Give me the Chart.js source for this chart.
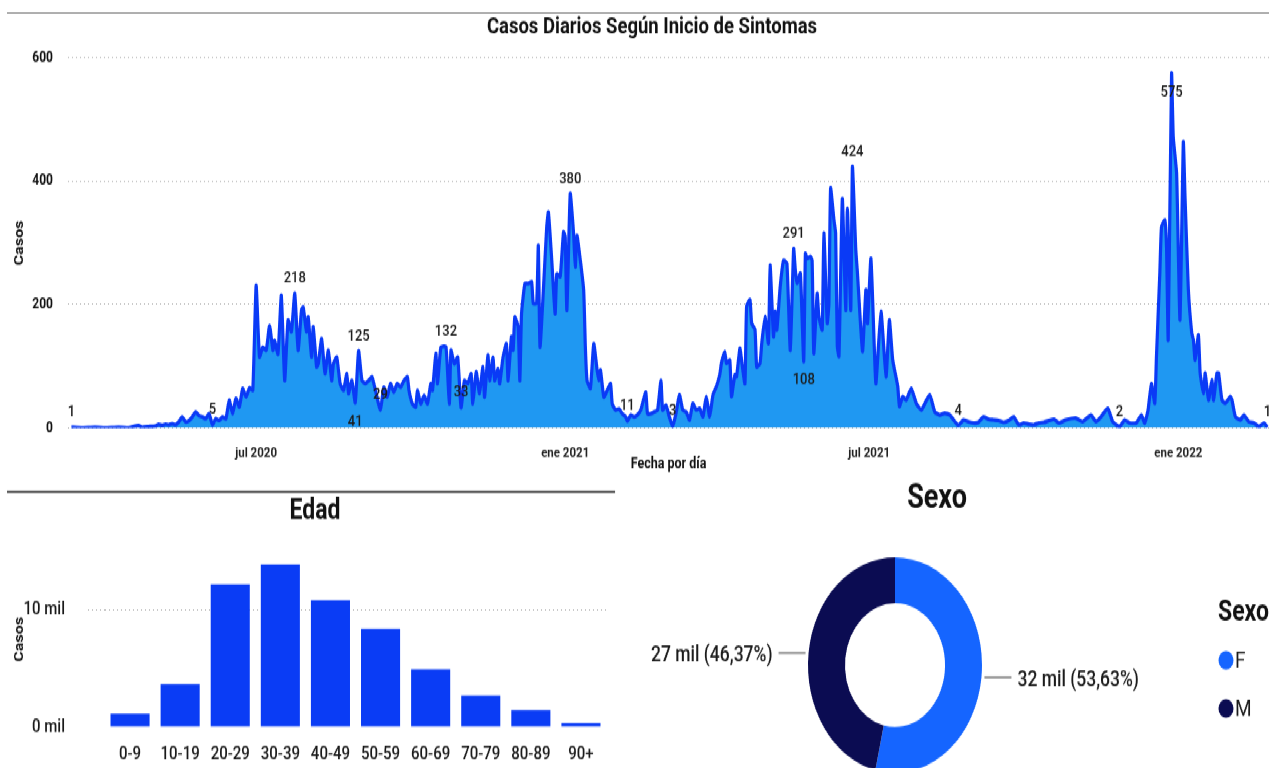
<!DOCTYPE html>
<html lang="es">
<head>
<meta charset="utf-8">
<title>Casos Diarios</title>
<script src="https://cdn.jsdelivr.net/npm/chart.js@4.4.1/dist/chart.umd.min.js"></script>
<style>
  html, body { margin: 0; padding: 0; background: #fff; overflow: hidden; }
  body { width: 1269px; height: 768px; position: relative; }
  /* the dashboard is laid out at 620px tall and stretched to the window height */
  #tablero { position: absolute; left: 0; top: 0; width: 1269px; height: 620px;
             transform: scaleY(1.2387); transform-origin: 0 0; }
  .panel { position: absolute; }
  .linea { position: absolute; background: #7f7f7f; }
</style>
</head>
<body>
<div id="tablero">
  <div class="linea" style="left:7px; top:9.8px; width:1262px; height:1.4px;"></div>
  <canvas id="diario" class="panel" style="left:0; top:0;" width="1269" height="390"></canvas>
  <div class="linea" style="left:7px; top:396px; width:608px; height:2.4px; background:#555;"></div>
  <canvas id="edad" class="panel" style="left:0; top:400px;" width="615" height="220"></canvas>
  <canvas id="sexo" class="panel" style="left:620px; top:385px;" width="649" height="260"></canvas>
</div>
<script>
// ---- daily cases (day offset from 13 mar 2020, value) ----
const INICIO = Date.UTC(2020, 2, 13);
const DIA_MS = 86400000;

const dias = [
  0, 6, 14, 20, 28, 34, 40, 42, 46, 50, 52, 54, 56, 58, 60, 62, 64, 66, 68, 70,
  72, 74, 76, 78, 80, 82, 84, 86, 88, 90, 92, 94, 96, 98, 100, 102, 104, 106, 108, 110,
  112, 114, 116, 118, 120, 121, 123, 125, 127, 129, 131, 133, 135, 137, 138, 140, 141, 143, 144, 146,
  147, 149, 151, 153, 155, 156, 158, 160, 162, 164, 165, 167, 169, 171, 173, 175, 177, 179, 181, 184,
  186, 188, 190, 192, 194, 196, 198, 200, 201, 203, 205, 206, 208, 210, 212, 214, 215, 217, 218, 220,
  223, 225, 226, 228, 230, 232, 234, 236, 238, 239, 241, 243, 245, 246, 248, 249, 251, 252, 254, 255,
  257, 259, 260, 262, 263, 264, 266, 267, 268, 270, 272, 274, 275, 277, 278, 279, 281, 283, 284, 286,
  288, 289, 291, 293, 294, 295, 297, 299, 300, 301, 303, 305, 306, 307, 309, 311, 313, 314, 315, 317,
  319, 321, 322, 324, 326, 328, 330, 331, 333, 335, 337, 339, 340, 342, 343, 345, 347, 349, 351, 352,
  354, 356, 358, 360, 362, 364, 366, 368, 370, 372, 374, 376, 378, 380, 382, 384, 386, 387, 389, 390,
  392, 393, 395, 396, 398, 399, 401, 402, 404, 405, 407, 408, 410, 411, 413, 415, 416, 418, 419, 420,
  422, 424, 426, 428, 430, 431, 432, 434, 436, 437, 438, 440, 441, 442, 444, 445, 447, 448, 450, 451,
  452, 454, 455, 456, 457, 459, 461, 462, 464, 465, 467, 468, 471, 473, 474, 476, 478, 479, 482, 485,
  487, 489, 492, 493, 495, 497, 500, 503, 506, 511, 514, 517, 520, 523, 528, 531, 534, 537, 540, 543,
  546, 549, 552, 555, 558, 561, 564, 567, 570, 573, 576, 579, 582, 585, 588, 592, 598, 602, 607, 610,
  613, 617, 620, 624, 627, 630, 634, 637, 639, 641, 643, 645, 646, 648, 649, 651, 652, 653, 655, 656,
  658, 660, 662, 663, 665, 667, 668, 669, 671, 672, 674, 675, 677, 679, 680, 682, 683, 685, 687, 690,
  691, 693, 696, 698, 701, 704, 707, 710, 712
];
const casos = [
  1, 0, 1, 0, 1, 0, 4, 1, 2, 3, 6, 4, 6, 5, 7, 5, 10, 18, 10, 12,
  18, 26, 20, 18, 15, 23, 5, 15, 12, 18, 15, 45, 23, 48, 34, 64, 50, 65, 61, 231,
  115, 131, 126, 166, 126, 142, 120, 215, 77, 175, 156, 218, 126, 191, 196, 156, 180, 115, 164, 99,
  104, 145, 88, 126, 77, 104, 115, 72, 61, 88, 56, 77, 41, 125, 77, 72, 77, 83, 61, 29,
  66, 50, 72, 58, 72, 66, 77, 83, 61, 39, 34, 61, 39, 53, 39, 72, 61, 121, 72, 131,
  132, 39, 126, 104, 115, 33, 77, 72, 88, 39, 91, 56, 99, 50, 118, 77, 115, 77, 96, 72,
  115, 137, 77, 148, 126, 180, 164, 77, 185, 234, 234, 237, 202, 202, 296, 131, 223, 326, 350, 272,
  185, 250, 245, 318, 310, 191, 380, 315, 261, 312, 272, 223, 131, 77, 64, 137, 94, 77, 94, 50,
  61, 72, 39, 29, 31, 23, 18, 11, 21, 18, 21, 29, 39, 58, 23, 23, 26, 29, 77, 29,
  37, 18, 3, 24, 54, 29, 26, 13, 40, 29, 32, 18, 51, 18, 54, 67, 86, 105, 124, 105,
  110, 51, 86, 83, 129, 110, 72, 197, 208, 170, 159, 99, 105, 137, 181, 137, 264, 148, 189, 159,
  229, 272, 267, 126, 291, 256, 235, 251, 108, 283, 275, 278, 272, 121, 218, 181, 159, 316, 170, 202,
  389, 337, 316, 132, 116, 372, 191, 356, 191, 424, 289, 251, 124, 224, 170, 275, 132, 72, 189, 83,
  175, 110, 67, 35, 51, 45, 64, 40, 29, 54, 26, 21, 24, 21, 4, 13, 10, 8, 9, 18,
  14, 13, 12, 9, 12, 18, 5, 8, 6, 5, 8, 9, 12, 14, 8, 13, 16, 10, 21, 10,
  18, 32, 10, 2, 13, 8, 8, 21, 8, 29, 72, 40, 116, 251, 326, 337, 294, 143, 575, 472,
  413, 175, 464, 375, 224, 154, 143, 110, 151, 89, 56, 89, 45, 78, 45, 89, 89, 45, 40, 51,
  45, 18, 13, 21, 10, 8, 2, 8, 1
];
// points that carry a value label, and the ones whose label sits under the line
const diasEtiqueta = [0, 84, 133, 169, 171, 184, 223, 232, 297, 331, 358, 430, 436, 465, 528, 624, 655, 712];
const diasEtiquetaAbajo = [169, 436, 655];

const fechasTick = [[2020, 6, 1], [2021, 0, 1], [2021, 6, 1], [2022, 0, 1]];
const textosTick = ['jul 2020', 'ene 2021', 'jul 2021', 'ene 2022'];

// ---- age groups ----
const gruposEdad = ['0-9', '10-19', '20-29', '30-39', '40-49', '50-59', '60-69', '70-79', '80-89', '90+'];
const casosEdad = [1150, 3680, 12200, 13900, 10850, 8400, 4950, 2700, 1450, 350];

// ---- sex ----
const sexos = ['F', 'M'];
const casosSexo = [31749, 27451];

const AZUL_LINEA = '#0a3af6';
const AZUL_AREA = '#1f98f2';
const AZUL_BARRA = '#0a3cf5';
const AZUL_F = '#1565ff';
const AZUL_M = '#0b0c52';
const GRIS_GRID = '#b8b8b8';
const TEXTO = '#1c1c1c';

Chart.defaults.font.family = "Roboto, 'Noto Sans', sans-serif";
Chart.defaults.color = TEXTO;

/* panel title drawn at a fixed spot */
const tituloPanel = {
  id: 'tituloPanel',
  afterDraw(chart, args, opts) {
    if (!opts || !opts.text) return;
    const ctx = chart.ctx;
    ctx.save();
    ctx.font = `bold ${opts.size}px Roboto`;
    ctx.fillStyle = '#111';
    ctx.textAlign = 'center';
    ctx.textBaseline = 'middle';
    ctx.fillText(opts.text, opts.x, opts.y);
    ctx.restore();
  }
};
Chart.register(tituloPanel);

/* === DAILY AREA CHART === */
const etiquetasValor = {
  id: 'etiquetasValor',
  afterDatasetsDraw(chart) {
    const ctx = chart.ctx;
    const meta = chart.getDatasetMeta(0);
    ctx.save();
    ctx.font = '500 13px Roboto';
    ctx.fillStyle = TEXTO;
    ctx.textAlign = 'center';
    ctx.textBaseline = 'middle';
    diasEtiqueta.forEach((d) => {
      const i = dias.indexOf(d);
      if (i < 0) return;
      const p = meta.data[i];
      const abajo = diasEtiquetaAbajo.includes(d);
      ctx.fillText(String(casos[i]), p.x, p.y + (abajo ? 15.5 : -12));
    });
    ctx.restore();
  }
};

const diasTick = fechasTick.map(([a, m, d]) => (Date.UTC(a, m, d) - INICIO) / DIA_MS);

new Chart(document.getElementById('diario'), {
  type: 'line',
  data: {
    datasets: [{
      data: dias.map((d, i) => ({ x: d, y: casos[i] })),
      borderColor: AZUL_LINEA,
      backgroundColor: AZUL_AREA,
      fill: 'origin',
      borderWidth: 3.2,
      borderJoinStyle: 'round',
      pointRadius: 0,
      tension: 0.15,
    }],
  },
  options: {
    responsive: false,
    animation: false,
    events: [],
    layout: { padding: { top: 46.8 } },
    plugins: {
      legend: { display: false },
      tooltip: { enabled: false },
      tituloPanel: { text: 'Casos Diarios Según Inicio de Sintomas', x: 652, y: 22.4, size: 18.5 },
    },
    scales: {
      x: {
        type: 'linear',
        min: -2,
        max: 713,
        grid: { display: false },
        border: { display: false },
        afterBuildTicks: (s) => { s.ticks = diasTick.map((v) => ({ value: v })); },
        afterFit: (s) => { s.height = 44.5; },
        ticks: {
          autoSkip: false,
          maxRotation: 0,
          padding: 5.5,
          color: '#222',
          font: { size: 11.5, weight: 'bold' },
          callback: (v, i) => textosTick[i],
        },
        title: {
          display: true,
          text: 'Fecha por día',
          color: '#111',
          font: { size: 12.5, weight: 'bold' },
          padding: { top: 3.4, bottom: 7.4 },
        },
      },
      y: {
        min: 0,
        max: 600,
        afterFit: (s) => { s.width = 68; },
        ticks: { stepSize: 200, padding: 15, color: '#111', font: { size: 12, weight: 'bold' } },
        grid: { color: GRIS_GRID, lineWidth: 1, drawTicks: false },
        border: { display: false, dash: [1, 3] },
        title: {
          display: true,
          text: 'Casos',
          color: '#111',
          font: { size: 13, weight: 'bold' },
          padding: { top: 12.2, bottom: 0 },
        },
      },
    },
  },
  plugins: [etiquetasValor],
});

/* === AGE BARS === */
new Chart(document.getElementById('edad'), {
  type: 'bar',
  data: {
    labels: gruposEdad,
    datasets: [{
      data: casosEdad,
      backgroundColor: AZUL_BARRA,
      barPercentage: 0.78,
      categoryPercentage: 1,
    }],
  },
  options: {
    responsive: false,
    animation: false,
    events: [],
    layout: { padding: { top: 45.3, right: 9 } },
    plugins: {
      legend: { display: false },
      tooltip: { enabled: false },
      tituloPanel: { text: 'Edad', x: 315, y: 13.5, size: 23 },
    },
    scales: {
      x: {
        grid: { display: false },
        border: { display: false },
        afterFit: (s) => { s.height = 33; },
        ticks: { padding: 5.5, color: '#1a1a1a', font: { size: 15, weight: '500' } },
      },
      y: {
        min: 0,
        max: 15000,
        afterBuildTicks: (s) => { s.ticks = [0, 10000].map((v) => ({ value: v })); },
        afterFit: (s) => { s.width = 105; },
        ticks: {
          padding: 23,
          color: '#1a1a1a',
          font: { size: 15, weight: '500' },
          callback: (v) => `${v / 1000} mil`,
        },
        grid: {
          color: (c) => (c.tick && c.tick.value === 0 ? 'rgba(0,0,0,0)' : GRIS_GRID),
          drawTicks: true,
          tickLength: 17,
          tickBorderDash: [1, 3],
        },
        border: { display: false, dash: [1, 3] },
        title: {
          display: true,
          text: 'Casos',
          color: '#111',
          font: { size: 13, weight: 'bold' },
          padding: { top: 12.2, bottom: 0 },
        },
      },
    },
  },
});

/* === SEX DOUGHNUT === */
const etiquetasSexo = {
  id: 'etiquetasSexo',
  afterDraw(chart) {
    const ctx = chart.ctx;
    const ds = chart.data.datasets[0];
    const total = ds.data.reduce((a, b) => a + b, 0);
    const meta = chart.getDatasetMeta(0);
    ctx.save();
    meta.data.forEach((arc, i) => {
      const mid = (arc.startAngle + arc.endAngle) / 2;
      const px = arc.x + Math.cos(mid) * arc.outerRadius;
      const py = arc.y + Math.sin(mid) * arc.outerRadius;
      const dir = Math.cos(mid) >= 0 ? 1 : -1;
      ctx.strokeStyle = '#9a9a9a';
      ctx.lineWidth = 2;
      ctx.beginPath();
      ctx.moveTo(px + dir * 3, py);
      ctx.lineTo(px + dir * 30, py);
      ctx.stroke();
      const v = ds.data[i];
      const pct = (v / total * 100).toFixed(2).replace('.', ',');
      ctx.font = '500 17.5px Roboto';
      ctx.fillStyle = TEXTO;
      ctx.textBaseline = 'middle';
      ctx.textAlign = dir > 0 ? 'left' : 'right';
      ctx.fillText(`${Math.round(v / 1000)} mil (${pct}%)`, px + dir * 36, py + 2.5);
    });

    // legend at the right edge
    ctx.font = 'bold 23px Roboto';
    ctx.fillStyle = '#111';
    ctx.textAlign = 'left';
    ctx.fillText('Sexo', 598, 110);
    chart.data.labels.forEach((lab, i) => {
      const y = 148 + i * 39;
      ctx.fillStyle = ds.backgroundColor[i];
      ctx.beginPath();
      ctx.arc(606, y, 7.5, 0, Math.PI * 2);
      ctx.fill();
      ctx.font = '19px Roboto';
      ctx.fillStyle = TEXTO;
      ctx.fillText(lab, 615, y + 1.5);
    });
    ctx.restore();
  }
};

new Chart(document.getElementById('sexo'), {
  type: 'doughnut',
  data: {
    labels: sexos,
    datasets: [{
      data: casosSexo,
      backgroundColor: [AZUL_F, AZUL_M],
      borderWidth: 0,
      hoverOffset: 0,
    }],
  },
  options: {
    responsive: false,
    animation: false,
    events: [],
    cutout: '57.5%',
    layout: { padding: { left: 188, top: 65, right: 287, bottom: 21 } },
    plugins: {
      legend: { display: false },
      tooltip: { enabled: false },
      tituloPanel: { text: 'Sexo', x: 317, y: 18, size: 27 },
    },
  },
  plugins: [etiquetasSexo],
});
</script>
</body>
</html>
